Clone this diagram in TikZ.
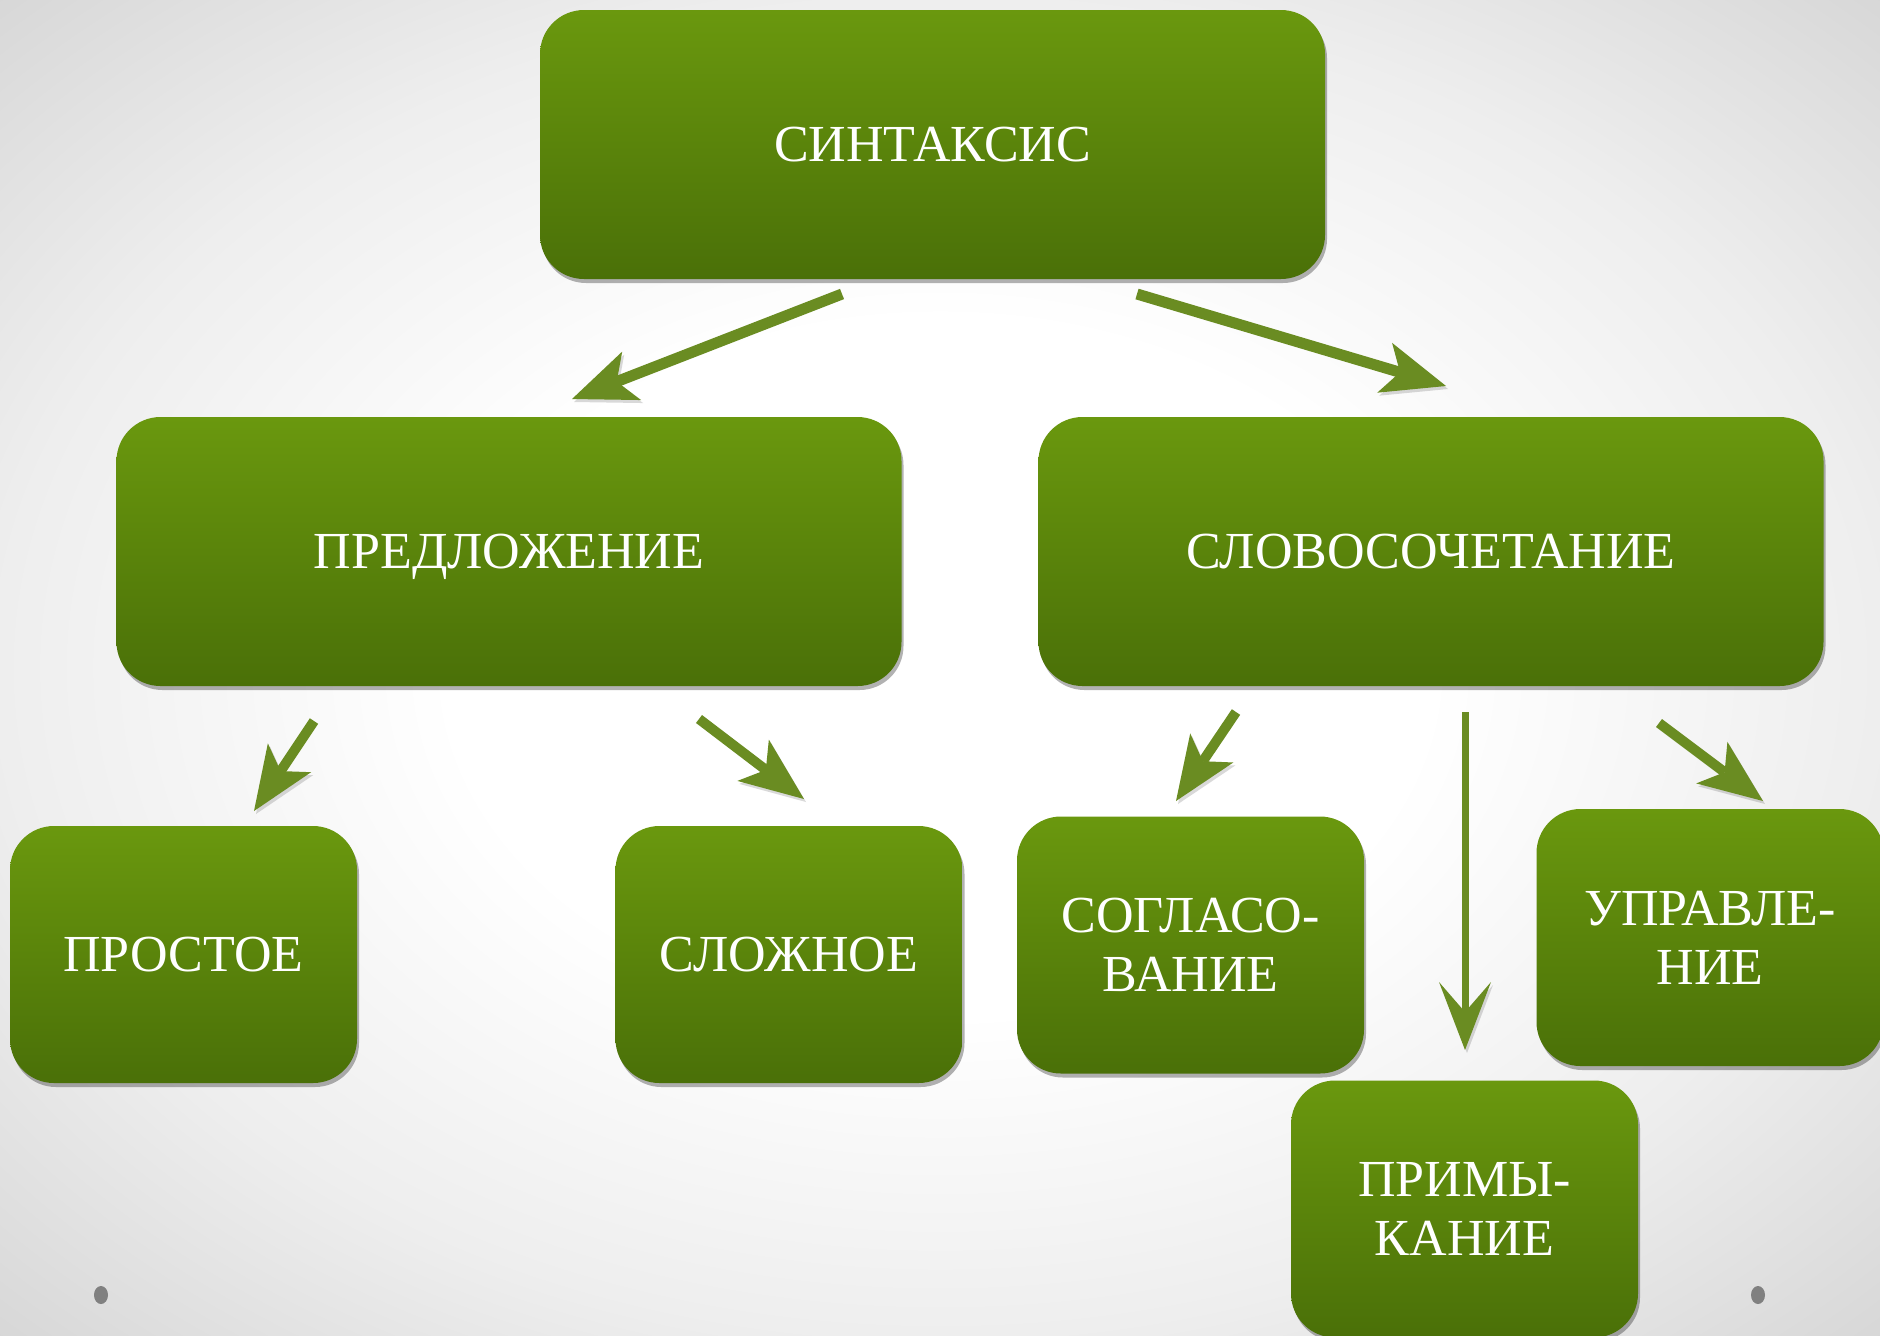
\documentclass[tikz,border=0pt]{standalone}
\usepackage{fontspec}
\setmainfont{Liberation Serif}
\usetikzlibrary{arrows.meta,shadows}
\definecolor{boxtop}{RGB}{106,152,14}
\definecolor{boxbot}{RGB}{74,112,8}
\definecolor{arrgreen}{RGB}{106,140,34}
\definecolor{bgA}{RGB}{238,238,238}
\definecolor{bgB}{RGB}{214,214,214}
\definecolor{dotgray}{RGB}{128,128,128}
\pgfdeclareradialshading{bgshade}{\pgfpoint{0bp}{0bp}}{color(0bp)=(white);color(13bp)=(white);color(25bp)=(bgA);color(36bp)=(bgB);color(50bp)=(bgB)}
\tikzset{
  box/.style={rounded corners=22pt, top color=boxtop, bottom color=boxbot,
    inner sep=0pt, align=center, text=white,
    font=\fontsize{26}{29.5}\selectfont,
    drop shadow={shadow xshift=1pt, shadow yshift=-2pt, opacity=0.3, fill=black}},
  oneline/.style={text height=17.2pt, text depth=0pt},
  bigbox/.style={box, oneline, minimum width=392.5pt, minimum height=134.5pt},
  smallbox/.style={box, minimum width=173.5pt, minimum height=128.5pt},
  conn/.style={draw=arrgreen, line width=5.5pt,
    -{Stealth[length=32pt,width=26pt,inset=8pt,line width=0pt]},
    preaction={draw=black, opacity=0.15, transform canvas={shift={(1pt,-1.5pt)}}}},
  sconn/.style={conn, line width=5pt},
  vconn/.style={draw=arrgreen, line width=3.5pt,
    -{Stealth[length=34pt,width=26pt,inset=15pt,line width=0pt]},
    preaction={draw=black, opacity=0.15, transform canvas={shift={(1pt,-1.5pt)}}}}
}
\begin{document}
\begin{tikzpicture}[x=0.5pt,y=-0.5pt]
\useasboundingbox (0,0) rectangle (1880,1335);
\shade[shading=bgshade] (0,0) rectangle (1880,1335);

\fill[dotgray] (101,1295) ellipse [x radius=3.5pt, y radius=4.5pt];
\fill[dotgray] (1758,1295) ellipse [x radius=3.5pt, y radius=4.5pt];

\node[bigbox] (syn) at (932.5,144.5) {СИНТАКСИС};
\node[bigbox] (pred) at (509,551.5) {ПРЕДЛОЖЕНИЕ};
\node[bigbox] (slov) at (1431,551.5) {СЛОВОСОЧЕТАНИЕ};
\node[smallbox, oneline] (prost) at (183.5,954.5) {ПРОСТОЕ};
\node[smallbox, oneline] (slozh) at (789,954.5) {СЛОЖНОЕ};
\node[smallbox] (sogl) at (1190.5,945) {СОГЛАСО-\\ВАНИЕ};
\node[smallbox] (upr) at (1710,937.5) {УПРАВЛЕ-\\НИЕ};
\node[smallbox] (prim) at (1464.5,1209) {ПРИМЫ-\\КАНИЕ};

\coordinate (a1s) at (842,294);  \coordinate (a1e) at (572,399);
\coordinate (a2s) at (1137,294); \coordinate (a2e) at (1446,386);
\coordinate (a3s) at (314,721);  \coordinate (a3e) at (254,811);
\coordinate (a4s) at (699,719);  \coordinate (a4e) at (804,799);
\coordinate (a5s) at (1236,712); \coordinate (a5e) at (1176,801);
\coordinate (a6s) at (1465,712); \coordinate (a6e) at (1465,1050);
\coordinate (a7s) at (1659,723); \coordinate (a7e) at (1763,801);

\draw[conn] (a1s) -- (a1e);
\draw[conn] (a2s) -- (a2e);
\draw[sconn] (a3s) -- (a3e);
\draw[sconn] (a4s) -- (a4e);
\draw[sconn] (a5s) -- (a5e);
\draw[vconn] (a6s) -- (a6e);
\draw[sconn] (a7s) -- (a7e);
\end{tikzpicture}
\end{document}
